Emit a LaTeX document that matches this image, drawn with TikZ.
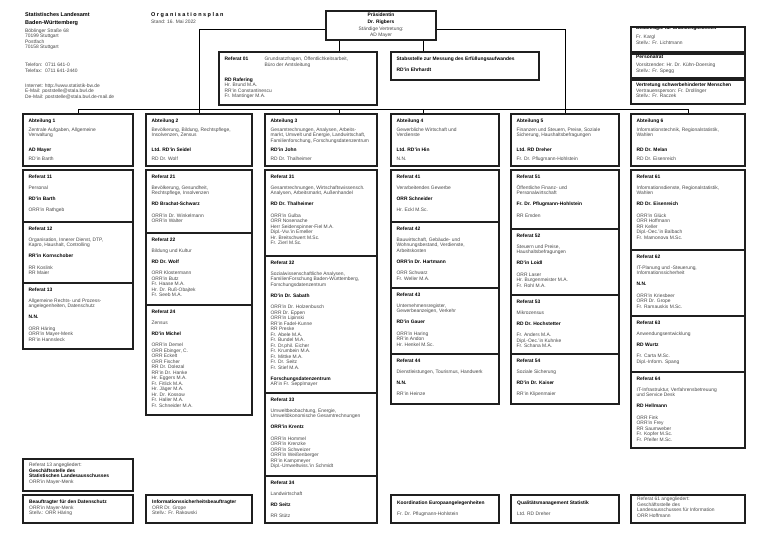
\documentclass[tikz,border=0pt]{standalone}
\usepackage{fontspec}
\setmainfont{Liberation Sans}
\tikzset{
 orgbox/.style={draw=black!88, line width=1.1pt, rectangle, inner sep=0pt},
 txt/.style={font=\fontsize{4.9}{5.5}\selectfont, text=black!72, align=left, inner sep=0pt, anchor=north west},
 hdr/.style={font=\fontsize{5.5}{6.5}\selectfont, text=black, inner sep=0pt},
 conn/.style={draw=black, line width=0.8pt},
}
\newcommand\hd[1]{{\bfseries\color{black}#1}}
\newcommand\gp{\\[5.6pt]}
\newcommand\lsp{\kern1.5pt}
\newcommand\bbox[5]{%
  \pgfmathsetmacro\oboxw{#4-#2}%
  \pgfmathsetmacro\oboxh{#5-#3}%
  \node[orgbox,minimum width=\oboxw pt,minimum height=\oboxh pt] (#1) at ({(#2+#4)/2},{(#3+#5)/2}) {};%
}
\newcommand\obox[6]{%
  \bbox{#1}{#2}{#3}{#4}{#5}%
  \node[txt] at ([shift={(6pt,-5pt)}]#1.north west) {#6};%
}
\newcommand\abox[6]{%
  \obox{#1}{#2}{114}{#3}{166}{#4}%
  \node[txt] at ([shift={(6pt,-34pt)}]#1.north west) {\hd{#5}\\[3.5pt]#6};%
}
\begin{document}
\begin{tikzpicture}[x=1pt,y=-1pt]
\fill[white] (0,0) rectangle (768,543);
\useasboundingbox (0,0) rectangle (768,543);

% header texts
\node[hdr, anchor=base west] (org1) at (25,16.7) {\textbf{Statistisches Landesamt}};
\node[hdr, anchor=base west] (org2) at (25,24.4) {\textbf{Baden-Württemberg}};
\node[txt] (addr) at (25,28.6) {Böblinger Straße 68\\70199 Stuttgart\\Postfach\\70158 Stuttgart};
\node[txt] (tel) at (25,62.5) {Telefon:\hspace{3pt}0711 641-0\\[1.2pt]Telefax:\hspace{3pt}0711 641-2440};
\node[txt] (web) at (25,83.3) {Internet: http://www.statistik-bw.de\\E-Mail: poststelle@stala.bwl.de\\De-Mail: poststelle@stala.bwl.de-mail.de};
\node[hdr, anchor=base west] (title) at (151,16.6) {\textbf{O\lsp r\lsp g\lsp a\lsp n\lsp i\lsp s\lsp a\lsp t\lsp i\lsp o\lsp n\lsp s\lsp p\lsp l\lsp a\lsp n}};
\node[txt, anchor=base west] (stand) at (151,24) {Stand: 16. Mai 2022};

% leadership
\node[orgbox, minimum width=110pt, minimum height=29pt, align=center, font=\fontsize{4.9}{6.7}\selectfont, text=black!72] (pres) at (381,25.5) {\hd{Präsidentin}\\\hd{Dr. Rigbers}\\Ständige Vertretung:\\AD Mayer};

\obox{ref01}{219}{52}{377}{105}{\hd{Referat 01}}
\node[txt] (ref01a) at ([shift={(46pt,-5pt)}]ref01.north west) {Grundsatzfragen, Öffentlichkeitsarbeit,\\Büro der Amtsleitung};
\node[txt] (ref01b) at ([shift={(6pt,-26pt)}]ref01.north west) {\hd{RD Rafering}\\Hr. Brund M.A.\\RR'in Constantinescu\\Fr. Mantinger M.A.};

\obox{stab}{391}{52}{539}{80}{\hd{Stabsstelle zur Messung des Erfüllungsaufwandes}\gp\hd{RD'in Ehrhardt}}

% right small boxes
\begin{scope}
\clip (631,27) rectangle (745,52);
\node[txt] (chgt) at (636,25.8) {\hd{Beauftragte für Chancengleichheit}\\[3.8pt]Fr. Kargl\\Stellv.: Fr. Lichtmann};
\end{scope}
\bbox{chg}{631}{27}{745}{52}
\bbox{pr}{631}{54}{745}{78}
\node[txt] (prt) at (636,55.2) {\hd{Personalrat}\\[2.4pt]Vorsitzender: Hr. Dr. Kühn-Doersing\\Stellv.: Fr. Spegg};
\bbox{sbv}{631}{80}{745}{104}
\node[txt] (sbvt) at (636,83.2) {\hd{Vertretung schwerbehinderter Menschen}\\Vertrauensperson: Fr. Drollinger\\Stellv.: Fr. Raczek};

% Abteilungen
\abox{abt1}{23}{133}{\hd{Abteilung 1}\\[3.5pt]Zentrale Aufgaben, Allgemeine\\Verwaltung}{AD Mayer}{RD'in Barth}
\abox{abt2}{146}{252}{\hd{Abteilung 2}\\[3.5pt]Bevölkerung, Bildung, Rechtspflege,\\Insolvenzen, Zensus}{Ltd. RD'in Seidel}{RD Dr. Wolf}
\abox{abt3}{265}{377}{\hd{Abteilung 3}\\[3.5pt]Gesamtrechnungen, Analysen, Arbeits-\\markt, Umwelt und Energie, Landwirtschaft,\\Familienforschung, Forschungsdatenzentrum}{RD'in John}{RD Dr. Thalheimer}
\abox{abt4}{391}{499}{\hd{Abteilung 4}\\[3.5pt]Gewerbliche Wirtschaft und\\Verdienste}{Ltd. RD'in Hin}{N.N.}
\abox{abt5}{511}{619}{\hd{Abteilung 5}\\[3.5pt]Finanzen und Steuern, Preise, Soziale\\Sicherung, Haushaltsbefragungen}{Ltd. RD Dreher}{Fr. Dr. Pflugmann-Hohlstein}
\abox{abt6}{631}{745}{\hd{Abteilung 6}\\[3.5pt]Informationstechnik, Regionalstatistik,\\Wahlen}{RD Dr. Melan}{RD Dr. Eisenreich}

% connectors
\coordinate (pL) at ([xshift=-42pt]pres.south);
\coordinate (pR) at ([xshift=42pt]pres.south);
\coordinate (pWL) at ([yshift=-4pt]pres.west);
\coordinate (pWR) at ([yshift=-4pt]pres.east);
\coordinate (bus) at (0,109);
\draw[conn] (pWL) -| (abt2.north);
\draw[conn] (pWR) -| (abt5.north);
\draw[conn] (pL) -- (pL |- ref01.north);
\draw[conn] (pR) -- (pR |- stab.north);
\draw[conn] (abt1.north) |- (bus -| abt6.north) -- (abt6.north);
\draw[conn] (pL |- bus) -- (pL |- abt3.north);
\draw[conn] (pR |- bus) -- (pR |- abt4.north);

% column 1
\obox{r11}{23}{170}{133}{222}{\hd{Referat 11}\gp Personal\gp\hd{RD'in Barth}\gp ORR'in Rathgeb}
\obox{r12}{23}{222}{133}{283}{\hd{Referat 12}\gp Organisation, Innerer Dienst, DTP,\\Kapro, Haushalt, Controlling\gp\hd{RR'in Kornschober}\gp RR Koslink\\RR Maier}
\obox{r13}{23}{283}{133}{349}{\hd{Referat 13}\gp Allgemeine Rechts- und Prozess-\\angelegenheiten, Datenschutz\gp\hd{N.N.}\gp ORR Häring\\ORR'in Mayer-Menk\\RR'in Hannsleck}

% column 2
\obox{r21}{146}{170}{252}{233}{\hd{Referat 21}\gp Bevölkerung, Gesundheit,\\Rechtspflege, Insolvenzen\gp\hd{RD Brachat-Schwarz}\gp ORR'in Dr. Winkelmann\\ORR'in Walter}
\obox{r22}{146}{233}{252}{305}{\hd{Referat 22}\gp Bildung und Kultur\gp\hd{RD Dr. Wolf}\gp ORR Klostermann\\ORR'in Butz\\Fr. Haase M.A.\\Hr. Dr. Ruß-Obajtek\\Fr. Seeb M.A.}
\obox{r24}{146}{305}{252}{415}{\hd{Referat 24}\gp Zensus\gp\hd{RD'in Michel}\gp ORR'in Demel\\ORR Ebinger, C.\\ORR Eckelt\\ORR Fischer\\RR Dr. Dolezal\\RR'in Dr. Hanke\\Hr. Eggers M.A.\\Fr. Fitlick M.A.\\Hr. Jäger M.A.\\Hr. Dr. Kossow\\Fr. Haller M.A.\\Fr. Schneider M.A.}

% column 3
\obox{r31}{265}{170}{377}{256}{\hd{Referat 31}\gp Gesamtrechnungen, Wirtschaftswissensch.\\Analysen, Arbeitsmarkt, Außenhandel\gp\hd{RD Dr. Thalheimer}\gp ORR'in Gulba\\ORR Nosenache\\Herr Seidenspinner-Fiel M.A.\\Dipl.-Vw.'in Emeller\\Hr. Breitschwert M.Sc.\\Fr. Zierl M.Sc.}
\obox{r32}{265}{256}{377}{393}{\hd{Referat 32}\gp Sozialwissenschaftliche Analysen,\\FamilienForschung Baden-Württemberg,\\Forschungsdatenzentrum\gp\hd{RD'in Dr. Sabath}\gp ORR'in Dr. Holzenbusch\\ORR Dr. Eppen\\ORR'in Lipinski\\RR'in Fadel-Kunne\\RR Preske\\Fr. Abele M.A.\\Fr. Bundel M.A.\\Fr. Dr.phil. Eicher\\Fr. Krumbein M.A.\\Fr. Mittke M.A.\\Fr. Dr. Seitz\\Fr. Stief M.A.\gp\hd{Forschungsdatenzentrum}\\AR'in Fr. Sepplmayer}
\obox{r33}{265}{393}{377}{476}{\hd{Referat 33}\gp Umweltbeobachtung, Energie,\\Umweltökonomische Gesamtrechnungen\gp\hd{ORR'in Krentz}\gp ORR'in Hommel\\ORR'in Krenzke\\ORR'in Schweizer\\ORR'in Weißenberger\\RR'in Kampmeyer\\Dipl.-Umweltwiss.'in Schmidt}
\obox{r34}{265}{476}{377}{523}{\hd{Referat 34}\gp Landwirtschaft\gp\hd{RD Seitz}\gp RR Stütz}

% column 4
\obox{r41}{391}{170}{499}{222}{\hd{Referat 41}\gp Verarbeitendes Gewerbe\gp\hd{ORR Schneider}\gp Hr. Eckl M.Sc.}
\obox{r42}{391}{222}{499}{288}{\hd{Referat 42}\gp Bauwirtschaft, Gebäude- und\\Wohnungsbestand, Verdienste,\\Arbeitskosten\gp\hd{ORR'in Dr. Hartmann}\gp ORR Schwarz\\Fr. Weller M.A.}
\obox{r43}{391}{288}{499}{354}{\hd{Referat 43}\gp Unternehmensregister,\\Gewerbeanzeigen, Verkehr\gp\hd{RD'in Gauer}\gp ORR'in Haring\\RR'in Andon\\Hr. Henkel M.Sc.}
\obox{r44}{391}{354}{499}{404}{\hd{Referat 44}\gp Dienstleistungen, Tourismus, Handwerk\gp\hd{N.N.}\gp RR'in Heinze}

% column 5
\obox{r51}{511}{170}{619}{229}{\hd{Referat 51}\gp Öffentliche Finanz- und\\Personalwirtschaft\gp\hd{Fr. Dr. Pflugmann-Hohlstein}\gp RR Emden}
\obox{r52}{511}{229}{619}{295}{\hd{Referat 52}\gp Steuern und Preise,\\Haushaltsbefragungen\gp\hd{RD'in Loidl}\gp ORR Laser\\Hr. Burgenmeister M.A.\\Fr. Rohl M.A.}
\obox{r53}{511}{295}{619}{354}{\hd{Referat 53}\gp Mikrozensus\gp\hd{RD Dr. Hochstetter}\gp Fr. Anders M.A.\\Dipl.-Oec.'in Kuhnke\\Fr. Schana M.A.}
\obox{r54}{511}{354}{619}{404}{\hd{Referat 54}\gp Soziale Sicherung\gp\hd{RD'in Dr. Kaiser}\gp RR'in Klipenmaier}

% column 6
\obox{r61}{631}{170}{745}{250}{\hd{Referat 61}\gp Informationsdienste, Regionalstatistik,\\Wahlen\gp\hd{RD Dr. Eisenreich}\gp ORR'in Glück\\ORR Hoffmann\\RR Keller\\Dipl.-Oec.'in Balbach\\Fr. Mamonova M.Sc.}
\obox{r62}{631}{250}{745}{316}{\hd{Referat 62}\gp IT-Planung und -Steuerung,\\Informationssicherheit\gp\hd{N.N.}\gp ORR'in Kriesbeer\\ORR Dr. Grope\\Fr. Ramauskis M.Sc.}
\obox{r63}{631}{316}{745}{372}{\hd{Referat 63}\gp Anwendungsentwicklung\gp\hd{RD Wurtz}\gp Fr. Carta M.Sc.\\Dipl.-Inform. Spang}
\obox{r64}{631}{372}{745}{448}{\hd{Referat 64}\gp IT-Infrastruktur, Verfahrensbetreuung\\und Service Desk\gp\hd{RD Hellmann}\gp ORR Fink\\ORR'in Frey\\RR Saumweber\\Fr. Kopfer M.Sc.\\Fr. Pfeifer M.Sc.}

% bottom boxes
\bbox{b13}{23}{459}{133}{491}
\node[txt] (b13t) at (29,463.2) {Referat 13 angegliedert:\\\hd{Geschäftsstelle des}\\\hd{Statistischen Landesausschusses}\\ORR'in Mayer-Menk};
\bbox{bds}{23}{495}{133}{523}
\node[txt] (bdst) at (29,500.2) {\hd{Beauftragter für den Datenschutz}\\ORR'in Mayer-Menk\\Stellv.: ORR Häring};
\bbox{isb}{146}{495}{252}{523}
\node[txt] (isbt) at (152,500.2) {\hd{Informationssicherheitsbeauftragter}\\ORR Dr. Grope\\Stellv.: Fr. Rakowski};
\bbox{keu}{391}{495}{499}{523}
\node[txt] (keut) at (397,501) {\hd{Koordination Europaangelegenheiten}\gp Fr. Dr. Pflugmann-Hohlstein};
\bbox{qms}{511}{495}{619}{523}
\node[txt] (qmst) at (517,501) {\hd{Qualitätsmanagement Statistik}\gp Ltd. RD Dreher};
\bbox{r61a}{631}{495}{745}{523}
\node[txt] (r61at) at (637,497.2) {Referat 61 angegliedert:\\Geschäftsstelle des\\Landesausschusses für Information\\ORR Hoffmann};
\end{tikzpicture}
\end{document}
